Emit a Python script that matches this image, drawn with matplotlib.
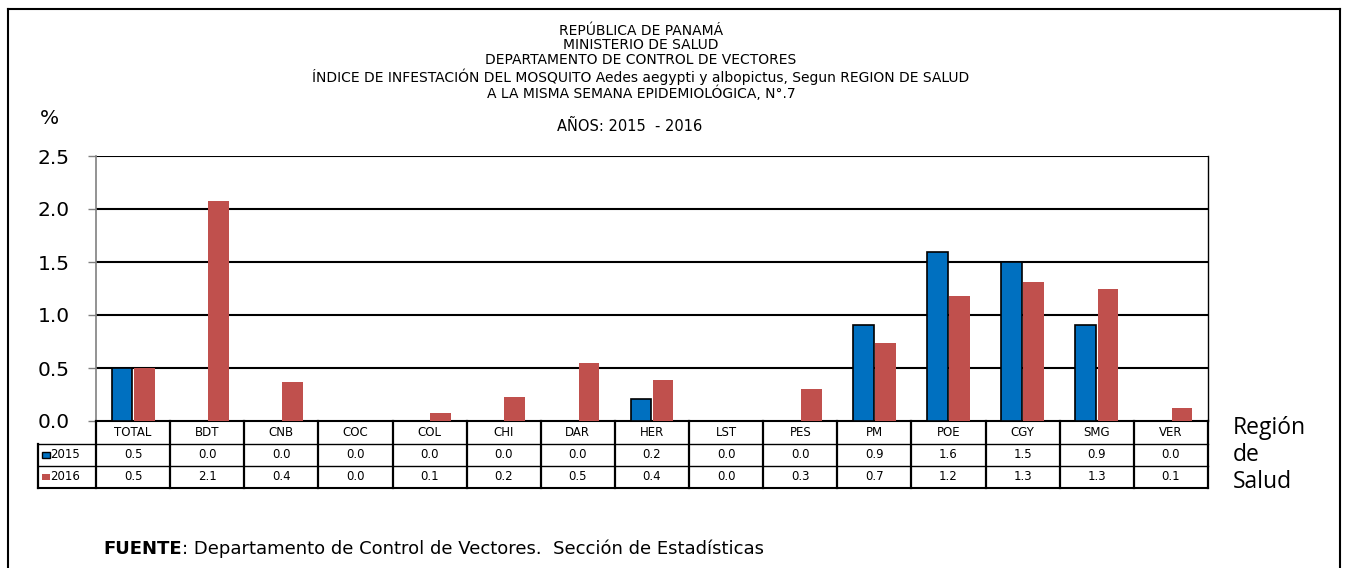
import numpy as np
import matplotlib
matplotlib.use('Agg')
import matplotlib.pyplot as plt
from matplotlib.transforms import blended_transform_factory
from matplotlib.lines import Line2D
from matplotlib.patches import Rectangle

plt.rcParams['font.family'] = ['DejaVu Sans']

regions = ['TOTAL', 'BDT', 'CNB', 'COC', 'COL', 'CHI', 'DAR', 'HER', 'LST', 'PES',
           'PM', 'POE', 'CGY', 'SMG', 'VER']
# bar heights
idx_2015 = [0.5, 0.0, 0.0, 0.0, 0.0, 0.0, 0.0, 0.21, 0.0, 0.0, 0.91, 1.59, 1.5, 0.91, 0.0]
idx_2016 = [0.5, 2.08, 0.37, 0.0, 0.08, 0.23, 0.55, 0.39, 0.0, 0.3, 0.74, 1.18, 1.31, 1.25, 0.12]
# table text as printed
tab_2015 = ['0.5', '0.0', '0.0', '0.0', '0.0', '0.0', '0.0', '0.2', '0.0', '0.0', '0.9', '1.6', '1.5', '0.9', '0.0']
tab_2016 = ['0.5', '2.1', '0.4', '0.0', '0.1', '0.2', '0.5', '0.4', '0.0', '0.3', '0.7', '1.2', '1.3', '1.3', '0.1']
years = ['2015', '2016']
yticks = [0.0, 0.5, 1.0, 1.5, 2.0, 2.5]

blue = '#0070C0'
red = '#C0504D'

W, H = 1347, 568
fig = plt.figure(figsize=(W / 100, H / 100), dpi=100)
ax = fig.add_axes([96 / W, 1 - 421 / H, 1112 / W, 265 / H])

n = len(regions)
x = np.arange(n)
bw = 0.28
ax.bar(x - 0.15, idx_2015, bw, color=blue, edgecolor='black', linewidth=1.2, zorder=3)
ax.bar(x + 0.15, idx_2016, bw, color=red, edgecolor='none', zorder=3)

ax.set_xlim(-0.5, n - 0.5)
ax.set_ylim(0, 2.5)
ax.set_yticks(yticks)
ax.set_yticklabels(['%.1f' % v for v in yticks], fontsize=14.5)
ax.set_xticks([])
ax.tick_params(axis='y', direction='out', length=6, width=1, color='#808080', pad=13)
for v in yticks[1:]:
    ax.axhline(v, color='black', lw=1.5, zorder=1)
ax.spines['left'].set_color('#808080')
ax.spines['left'].set_linewidth(1.2)
ax.spines['bottom'].set_linewidth(1.5)
ax.spines['right'].set_linewidth(1.0)
ax.spines['top'].set_visible(False)

# data table under the axes
tr = blended_transform_factory(ax.transData, ax.transAxes)
px = 1 / 265.0
rows_y = [0, -23 * px, -45 * px, -67 * px]
lx = -0.5 - 58 / 74.1
for yy, x0, lw in [(rows_y[1], lx, 1), (rows_y[2], lx, 1), (rows_y[3], lx, 1.5)]:
    ax.add_line(Line2D([x0, n - 0.5], [yy] * 2, transform=tr, color='black', lw=lw, clip_on=False))
for i in range(n + 1):
    ax.add_line(Line2D([i - 0.5] * 2, [rows_y[0], rows_y[3]], transform=tr, color='black', lw=1.6, clip_on=False))
ax.add_line(Line2D([lx] * 2, [rows_y[1], rows_y[3]], transform=tr, color='black', lw=1.6, clip_on=False))

for i in range(n):
    ax.text(x[i], (rows_y[0] + rows_y[1]) / 2, regions[i], transform=tr, ha='center', va='center', fontsize=8.5)
    ax.text(x[i], (rows_y[1] + rows_y[2]) / 2, tab_2015[i], transform=tr, ha='center', va='center', fontsize=8.5)
    ax.text(x[i], (rows_y[2] + rows_y[3]) / 2, tab_2016[i], transform=tr, ha='center', va='center', fontsize=8.5)

for k, (yr, col) in enumerate(zip(years, [blue, red])):
    yc = (rows_y[k + 1] + rows_y[k + 2]) / 2
    ax.add_patch(Rectangle((lx + 0.06, yc - 3 * px), 0.1, 6 * px, transform=tr, facecolor=col,
                           edgecolor='black' if k == 0 else 'none', lw=1, clip_on=False))
    ax.text(lx + 0.17, yc, yr, transform=tr, ha='left', va='center', fontsize=8.5)

# titles
title_lines = ['REPÚBLICA DE PANAMÁ', 'MINISTERIO DE SALUD', 'DEPARTAMENTO DE CONTROL DE VECTORES',
               'ÍNDICE DE INFESTACIÓN DEL MOSQUITO Aedes aegypti y albopictus, Segun REGION DE SALUD',
               'A LA MISMA SEMANA EPIDEMIOLÓGICA, N°.7']
for t, yy in zip(title_lines, [31, 45, 60, 77, 93]):
    fig.text(641 / W, 1 - yy / H, t, ha='center', va='center', fontsize=10)
fig.text(630 / W, 1 - 126 / H, 'AÑOS: 2015  - 2016', ha='center', va='center', fontsize=10.5)
fig.text(49 / W, 1 - 119 / H, '%', ha='center', va='center', fontsize=14.5)

fig.text(1233 / W, 1 - 455 / H, 'Región\nde\nSalud', ha='left', va='center', fontsize=16.5,
         family=['Open Sans', 'DejaVu Sans'], linespacing=1.15)

src = fig.text(103 / W, 1 - 549 / H, 'FUENTE', ha='left', va='center', fontsize=13, fontweight='bold')
ax.annotate(': Departamento de Control de Vectores.  Sección de Estadísticas', xy=(1, 0.5),
            xycoords=src, ha='left', va='center', fontsize=13, annotation_clip=False)

# outer frame
for xs, ys in [([8, 8], [9, H]), ([8, 1340], [9, 9]), ([1340, 1340], [9, H])]:
    fig.add_artist(Line2D([v / W for v in xs], [1 - v / H for v in ys], color='black', lw=1.5))

plt.savefig('out.png', dpi=100)
